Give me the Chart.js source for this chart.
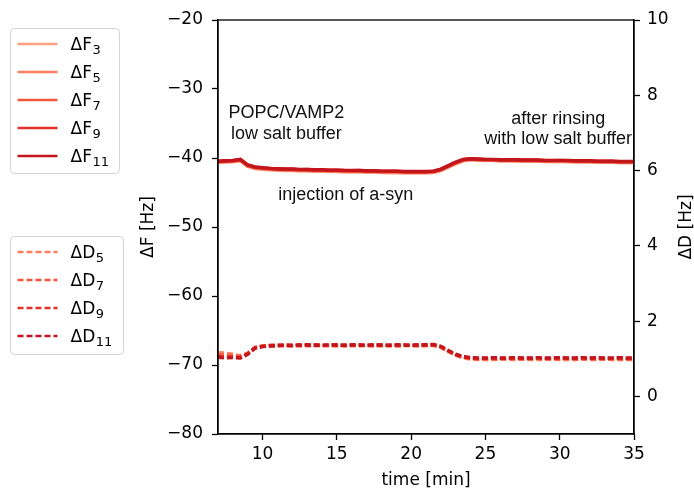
<!DOCTYPE html>
<html>
<head>
<meta charset="utf-8">
<script src="https://cdn.jsdelivr.net/npm/chart.js@4/dist/chart.umd.min.js"></script>
<style>
  html, body { margin: 0; padding: 0; background: #fff; }
  #wrap { width: 694px; height: 489px; position: relative; }
</style>
</head>
<body>
<div id="wrap"><canvas id="qcmChart"></canvas></div>
<script>
// --- data (time in min, dF and dD in Hz) ---
const time = [7,7.5,8,8.5,9,9.5,10,10.5,11,11.5,12,12.5,13,13.5,14,14.5,15,15.5,16,16.5,
  17,17.5,18,18.5,19,19.5,20,20.5,21,21.5,22,22.5,23,23.5,24,24.5,25,25.5,26,26.5,
  27,27.5,28,28.5,29,29.5,30,30.5,31,31.5,32,32.5,33,33.5,34,34.5,35];

const dF3 = [-40.66,-40.6,-40.56,-40.4,-41.22,-41.52,-41.65,-41.72,-41.78,-41.83,
  -41.82,-41.88,-41.87,-41.93,-41.92,-41.97,-41.97,-42.02,-42.03,-42.02,
  -42.07,-42.07,-42.12,-42.13,-42.12,-42.17,-42.17,-42.17,-42.18,-42.12,
  -41.85,-41.35,-40.85,-40.42,-40.26,-40.33,-40.38,-40.38,-40.44,-40.44,
  -40.43,-40.49,-40.48,-40.49,-40.53,-40.54,-40.53,-40.54,-40.58,-40.59,
  -40.58,-40.63,-40.64,-40.63,-40.68,-40.69,-40.68];
const dF5 = [-40.58,-40.52,-40.48,-40.32,-41.15,-41.43,-41.56,-41.63,-41.69,-41.74,
  -41.73,-41.79,-41.78,-41.84,-41.83,-41.88,-41.88,-41.93,-41.94,-41.93,
  -41.98,-41.98,-42.03,-42.04,-42.03,-42.08,-42.08,-42.08,-42.09,-42.03,
  -41.76,-41.26,-40.76,-40.35,-40.2,-40.27,-40.32,-40.31,-40.37,-40.37,
  -40.36,-40.42,-40.41,-40.42,-40.46,-40.47,-40.46,-40.47,-40.51,-40.52,
  -40.51,-40.56,-40.57,-40.56,-40.61,-40.62,-40.61];
const dF7 = [-40.52,-40.47,-40.43,-40.27,-41.1,-41.38,-41.5,-41.57,-41.63,-41.68,
  -41.67,-41.73,-41.72,-41.78,-41.77,-41.83,-41.82,-41.87,-41.88,-41.87,
  -41.93,-41.92,-41.97,-41.98,-41.97,-42.02,-42.03,-42.02,-42.03,-41.97,
  -41.7,-41.2,-40.7,-40.3,-40.16,-40.22,-40.27,-40.27,-40.32,-40.32,
  -40.31,-40.37,-40.36,-40.37,-40.42,-40.42,-40.41,-40.42,-40.46,-40.47,
  -40.46,-40.51,-40.52,-40.51,-40.56,-40.57,-40.56];
const dF9 = [-40.48,-40.42,-40.38,-40.22,-41.05,-41.33,-41.45,-41.52,-41.58,-41.63,
  -41.62,-41.68,-41.67,-41.73,-41.72,-41.78,-41.77,-41.82,-41.83,-41.82,
  -41.88,-41.87,-41.92,-41.93,-41.92,-41.97,-41.98,-41.97,-41.98,-41.92,
  -41.65,-41.15,-40.65,-40.25,-40.12,-40.18,-40.22,-40.23,-40.27,-40.28,
  -40.27,-40.33,-40.32,-40.33,-40.37,-40.38,-40.37,-40.38,-40.42,-40.43,
  -40.42,-40.47,-40.48,-40.47,-40.52,-40.53,-40.52];
const dF11 = [-40.45,-40.4,-40.35,-40.2,-41.0,-41.3,-41.4,-41.5,-41.55,-41.6,
  -41.6,-41.65,-41.65,-41.7,-41.7,-41.75,-41.75,-41.8,-41.8,-41.8,
  -41.85,-41.85,-41.9,-41.9,-41.9,-41.95,-41.95,-41.95,-41.95,-41.9,
  -41.6,-41.1,-40.6,-40.2,-40.1,-40.15,-40.2,-40.2,-40.25,-40.25,
  -40.25,-40.3,-40.3,-40.3,-40.35,-40.35,-40.35,-40.35,-40.4,-40.4,
  -40.4,-40.45,-40.45,-40.45,-40.5,-40.5,-40.5];

const dD5 = [1.16,1.15,1.12,1.08,1.15,1.3,1.33,1.34,1.34,1.35,
  1.34,1.35,1.34,1.35,1.34,1.35,1.34,1.34,1.35,1.34,
  1.35,1.34,1.34,1.35,1.34,1.34,1.35,1.34,1.35,1.35,
  1.3,1.19,1.09,1.02,0.99,0.98,0.98,0.98,0.99,0.98,
  0.98,0.99,0.98,0.98,0.98,0.99,0.98,0.98,0.98,0.99,
  0.98,0.98,0.99,0.98,0.98,0.98,0.98];
const dD7 = [1.1,1.09,1.07,1.05,1.14,1.3,1.34,1.35,1.35,1.36,
  1.35,1.35,1.36,1.35,1.36,1.35,1.36,1.36,1.35,1.36,
  1.36,1.35,1.36,1.35,1.35,1.36,1.36,1.35,1.35,1.36,
  1.31,1.2,1.1,1.04,1.01,1.0,1.0,1.0,1.0,1.01,
  1.0,1.0,1.0,1.01,1.0,1.0,1.0,1.01,0.99,1.0,
  1.0,1.0,0.99,1.0,1.0,0.99,1.0];
const dD9 = [1.06,1.04,1.05,1.03,1.13,1.29,1.33,1.35,1.36,1.35,
  1.36,1.37,1.36,1.37,1.35,1.36,1.37,1.35,1.36,1.37,
  1.35,1.36,1.37,1.35,1.36,1.37,1.35,1.36,1.36,1.37,
  1.32,1.21,1.11,1.05,1.02,1.01,1.01,1.02,1.01,1.01,
  1.02,1.01,1.01,1.02,1.01,1.01,1.02,1.01,1.01,1.02,
  1.01,1.02,1.01,1.01,1.02,1.01,1.01];
const dD11 = [1.04,1.02,1.03,1.02,1.12,1.28,1.32,1.34,1.35,1.36,
  1.35,1.36,1.37,1.36,1.36,1.37,1.36,1.36,1.37,1.36,
  1.36,1.37,1.36,1.36,1.37,1.36,1.36,1.37,1.37,1.38,
  1.33,1.22,1.12,1.06,1.03,1.02,1.02,1.03,1.02,1.02,
  1.03,1.02,1.02,1.03,1.02,1.02,1.03,1.02,1.02,1.03,
  1.02,1.03,1.02,1.02,1.03,1.02,1.02];

// legend labels: main part + subscript (harmonic number)
const fLabels = ['ΔF', 'ΔF', 'ΔF', 'ΔF', 'ΔF'];
const fSubs = ['3', '5', '7', '9', '11'];
const dLabels = ['ΔD', 'ΔD', 'ΔD', 'ΔD'];
const dSubs = ['5', '7', '9', '11'];
const xTicks = [10, 15, 20, 25, 30, 35];
const y2Ticks = [0, 2, 4, 6, 8, 10];

// annotation text, placed in data coordinates (time, dF)
const notes = [
  ['POPC/VAMP2', 11.6, -33.5],
  ['low salt buffer', 11.6, -36.5],
  ['injection of a-syn', 15.6, -45.3],
  ['after rinsing', 29.9, -34.3],
  ['with low salt buffer', 29.9, -37.3]
];

// Reds colour ramp, light to dark
const fColors = ['#fca083', '#fb7e5f', '#f5573e', '#e2302a', '#c3161c'];
const dColors = ['#fb7e5f', '#f5573e', '#e2302a', '#c3161c'];

const FONT = "'DejaVu Sans', sans-serif";
const toPts = arr => arr.map((v, i) => ({ x: time[i], y: v }));
const minus = v => String(v).replace('-', '\u2212');

const fSeries = [dF3, dF5, dF7, dF9, dF11];
const dSeries = [dD5, dD7, dD9, dD11];

const datasets = [];
fSeries.forEach((s, i) => datasets.push({
  label: fLabels[i] + fSubs[i], data: toPts(s), yAxisID: 'y',
  borderColor: fColors[i], borderWidth: 3.4, pointRadius: 0, order: 10 - i
}));
dSeries.forEach((s, i) => datasets.push({
  label: dLabels[i] + dSubs[i], data: toPts(s), yAxisID: 'y2',
  borderColor: dColors[i], borderWidth: 3.4, borderDash: [6, 3], pointRadius: 0, order: 10 - i
}));

// --- legends, frame, notes and y titles drawn on top ---
function drawLegendBox(ctx, x, y, w, h, labels, subs, colors, rowY, dashed) {
  ctx.save();
  ctx.beginPath();
  ctx.roundRect(x, y, w, h, 4);
  ctx.fillStyle = 'rgba(255,255,255,0.8)';
  ctx.fill();
  ctx.strokeStyle = '#d3d3d3';
  ctx.lineWidth = 1;
  ctx.stroke();
  labels.forEach((lab, i) => {
    const yy = rowY[i];
    ctx.beginPath();
    ctx.setLineDash(dashed ? [6, 3] : []);
    ctx.strokeStyle = colors[i];
    ctx.lineWidth = 2.6;
    ctx.moveTo(x + 7, yy);
    ctx.lineTo(x + 47, yy);
    ctx.stroke();
    ctx.setLineDash([]);
    ctx.fillStyle = '#000';
    ctx.textBaseline = 'alphabetic';
    ctx.textAlign = 'left';
    ctx.font = '17px ' + FONT;
    ctx.fillText(lab, x + 60, yy + 6);
    const w0 = ctx.measureText(lab).width;
    ctx.font = '13px ' + FONT;
    ctx.fillText(subs[i], x + 60 + w0 + 0.5, yy + 9.5);
  });
  ctx.restore();
}

const extras = {
  id: 'extras',
  afterDatasetsDraw(chart) {
    const { ctx, scales } = chart;
    ctx.save();
    ctx.fillStyle = '#111';
    ctx.font = "18px 'Liberation Sans', Arial, sans-serif";
    ctx.textAlign = 'center';
    ctx.textBaseline = 'middle';
    notes.forEach(n => {
      ctx.fillText(n[0], scales.x.getPixelForValue(n[1]), scales.y.getPixelForValue(n[2]));
    });
    ctx.restore();
  },
  afterDraw(chart) {
    const { ctx, chartArea: a } = chart;
    ctx.save();
    ctx.strokeStyle = '#000';
    ctx.lineWidth = 1.3;
    ctx.strokeRect(a.left, a.top, a.right - a.left, a.bottom - a.top);

    ctx.fillStyle = '#000';
    ctx.font = '17px ' + FONT;
    ctx.textAlign = 'center';
    ctx.textBaseline = 'middle';
    ctx.translate(149, (a.top + a.bottom) / 2);
    ctx.rotate(-Math.PI / 2);
    ctx.fillText('ΔF [Hz]', 0, 0);
    ctx.restore();

    ctx.save();
    ctx.fillStyle = '#000';
    ctx.font = '17px ' + FONT;
    ctx.textAlign = 'center';
    ctx.textBaseline = 'middle';
    ctx.translate(687, (a.top + a.bottom) / 2);
    ctx.rotate(-Math.PI / 2);
    ctx.fillText('ΔD [Hz]', 0, 0);
    ctx.restore();

    drawLegendBox(ctx, 10.5, 28.5, 109, 145, fLabels, fSubs, fColors, [44, 72, 100, 128, 156], false);
    drawLegendBox(ctx, 10.5, 236.5, 113, 118, dLabels, dSubs, dColors, [252, 280, 308, 336], true);
  }
};

const axisCommon = {
  border: { color: '#000', width: 1.3 },
  grid: { drawOnChartArea: false, tickLength: 6, tickColor: '#000', tickWidth: 1.3 },
  ticks: { color: '#000', font: { family: FONT, size: 17 }, padding: 6 }
};

new Chart(document.getElementById('qcmChart'), {
  type: 'line',
  data: { datasets },
  options: {
    responsive: true,
    maintainAspectRatio: false,
    animation: false,
    layout: { padding: { left: 150, top: 20, right: 0, bottom: 0 } },
    plugins: { legend: { display: false }, tooltip: { enabled: false } },
    scales: {
      x: {
        ...axisCommon, type: 'linear', position: 'bottom', min: 7, max: 35,
        afterBuildTicks: s => { s.ticks = xTicks.map(v => ({ value: v })); },
        afterFit: s => { s.height = 55; },
        ticks: { ...axisCommon.ticks, padding: 4 },
        title: { display: true, text: 'time [min]', color: '#000', font: { family: FONT, size: 17, lineHeight: 1.0 }, padding: { top: 0, bottom: 0 } }
      },
      y: {
        ...axisCommon, position: 'left', min: -80, max: -20,
        ticks: { ...axisCommon.ticks, padding: 9, stepSize: 10, callback: v => minus(v) },
        afterFit: s => { s.width = 68; }
      },
      y2: {
        ...axisCommon, position: 'right', min: -1, max: 10,
        afterBuildTicks: s => { s.ticks = y2Ticks.map(v => ({ value: v })); },
        ticks: { ...axisCommon.ticks, padding: 7, callback: v => minus(v) },
        afterFit: s => { s.width = 60; }
      }
    }
  },
  plugins: [extras]
});
</script>
</body>
</html>
